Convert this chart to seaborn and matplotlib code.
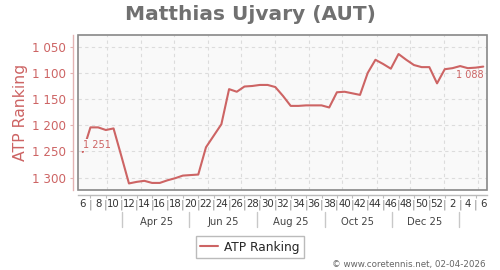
import matplotlib
matplotlib.use("Agg")
import matplotlib.pyplot as plt
import seaborn as sns
import pandas as pd
from matplotlib.patches import Rectangle
from matplotlib.transforms import blended_transform_factory

# ---------------- data ----------------
title = "Matthias Ujvary (AUT)"
series_name = "ATP Ranking"
first_week_date = "2025-02-07"
ranks = [1251, 1204, 1204, 1209, 1206, 1258, 1311, 1308, 1306, 1310,
         1310, 1305, 1301, 1296, 1295, 1294, 1242, 1220, 1198, 1131,
         1136, 1126, 1125, 1123, 1123, 1127, 1144, 1163, 1163, 1162,
         1162, 1162, 1166, 1137, 1136, 1139, 1142, 1100, 1075, 1083,
         1092, 1064, 1075, 1085, 1089, 1089, 1120, 1093, 1091, 1087,
         1091, 1090, 1088]
y_ticks = [1050, 1100, 1150, 1200, 1250, 1300]
label_months = ["2025-04", "2025-06", "2025-08", "2025-10", "2025-12"]
sep_months = ["2025-03", "2025-05", "2025-07", "2025-09", "2025-11", "2026-01"]
footer = "\u00a9 www.coretennis.net, 02-04-2026"

RED = "#cd6464"

sns.set_style("white")
plt.rcParams["font.family"] = ["DejaVu Sans"]

dates = pd.date_range(first_week_date, periods=len(ranks), freq="7D")
df = pd.DataFrame({"date": dates, series_name: ranks})

fig = plt.figure(figsize=(5, 2.7), dpi=100)
ax = fig.add_axes([78 / 500, 1 - 190 / 270, 409 / 500, 155 / 270])
ax.set_facecolor("#f9f9f9")

sns.lineplot(data=df, x="date", y=series_name, color=RED, lw=1.5, ax=ax,
             label=series_name, zorder=3)

# limits
ax.set_xlim(dates[0] - pd.Timedelta(days=4.3), dates[-1] + pd.Timedelta(days=3.4))
ax.set_ylim(1323.5, 1027.7)

# grid
ax.set_yticks(y_ticks)
ax.yaxis.grid(True, ls=(0, (3, 3)), color="#dcdcdc", lw=0.8)
for d in pd.date_range("2025-03-01", "2026-02-01", freq="MS"):
    ax.axvline(d, ls=(0, (3, 3)), color="#dcdcdc", lw=0.8, zorder=0)

# y axis
ax.set_yticklabels([f"{v:,}".replace(",", " ") for v in y_ticks])
ax.tick_params(axis="y", which="major", left=True, length=2.5, width=0.8,
               color="#e3b3b3", labelcolor=RED, labelsize=8.6, pad=2.5)
ax.set_ylabel("")
fig.text(21 / 500, 1 - 112.5 / 270, series_name, rotation=90, ha="center",
         va="center", fontsize=11.3, color=RED)

# x axis: ISO weeks
ax.set_xticks(dates[::2])
ax.set_xticklabels([str(d.isocalendar().week) for d in dates[::2]])
ax.set_xticks(dates[1::2], minor=True)
ax.set_xticklabels(["|"] * len(dates[1::2]), minor=True)
ax.tick_params(axis="x", which="major", bottom=True, length=0, labelsize=7.3,
               labelcolor="#333333", pad=2.8)
ax.tick_params(axis="x", which="minor", bottom=True, length=2, width=0.8,
               color="#bbbbbb", labelsize=7.6, labelcolor="#8c8c8c", pad=1.2)
ax.set_xlabel("")

# spines
for s in ["top", "right"]:
    ax.spines[s].set_visible(False)
ax.spines["left"].set_position(("outward", 3.6))
ax.spines["left"].set_color("#e3b3b3")
ax.spines["left"].set_linewidth(1.0)
ax.spines["bottom"].set_position(("outward", 3.6))
ax.spines["bottom"].set_color("#bbbbbb")
ax.spines["bottom"].set_linewidth(1.0)
ax.add_patch(Rectangle((0, 0), 1, 1, transform=ax.transAxes, fill=False,
                       edgecolor="#888888", lw=1.2, clip_on=False, zorder=5))

# month labels and separators
tr = blended_transform_factory(ax.transData, fig.transFigure)
for m in label_months:
    d = pd.Timestamp(m + "-15")
    ax.text(d, 1 - 222 / 270, d.strftime("%b %y"), transform=tr, ha="center",
            va="center", fontsize=7.2, color="#444444")
for m in sep_months:
    d = pd.Timestamp(m + "-15")
    ax.plot([d, d], [1 - 212 / 270, 1 - 227 / 270], transform=tr,
            color="#c8c8c8", lw=1.0, clip_on=False)

# end labels
ax.annotate(f"{ranks[0]:,}".replace(",", " "), xy=(dates[0], ranks[0]),
            xytext=(0, 4.8), textcoords="offset points", ha="left", va="center",
            fontsize=7, color=RED, zorder=4,
            bbox=dict(boxstyle="square,pad=0.1", fc="#f9f9f9", ec="none"))
ax.annotate(f"{ranks[-1]:,}".replace(",", " "), xy=(dates[-1], ranks[-1]),
            xytext=(0, -6.2), textcoords="offset points", ha="right", va="center",
            fontsize=7, color=RED, zorder=4)

# legend
handles, labels = ax.get_legend_handles_labels()
ax.get_legend().remove()
fig.legend(handles, labels, loc="center", bbox_to_anchor=(0.5, 1 - 247 / 270),
           frameon=True, fancybox=False, edgecolor="#aaaaaa", fontsize=8.7,
           handlelength=1.5, borderpad=0.35, handletextpad=0.5)

# title and footer
fig.text(0.5, 1 - 14 / 270, title, ha="center", va="center", fontsize=14.5,
         fontweight="bold", color="#707070")
fig.text(485 / 500, 1 - 264 / 270, footer, ha="right", va="center",
         fontsize=6.3, color="#666666")

fig.savefig("out.png", dpi=100)
